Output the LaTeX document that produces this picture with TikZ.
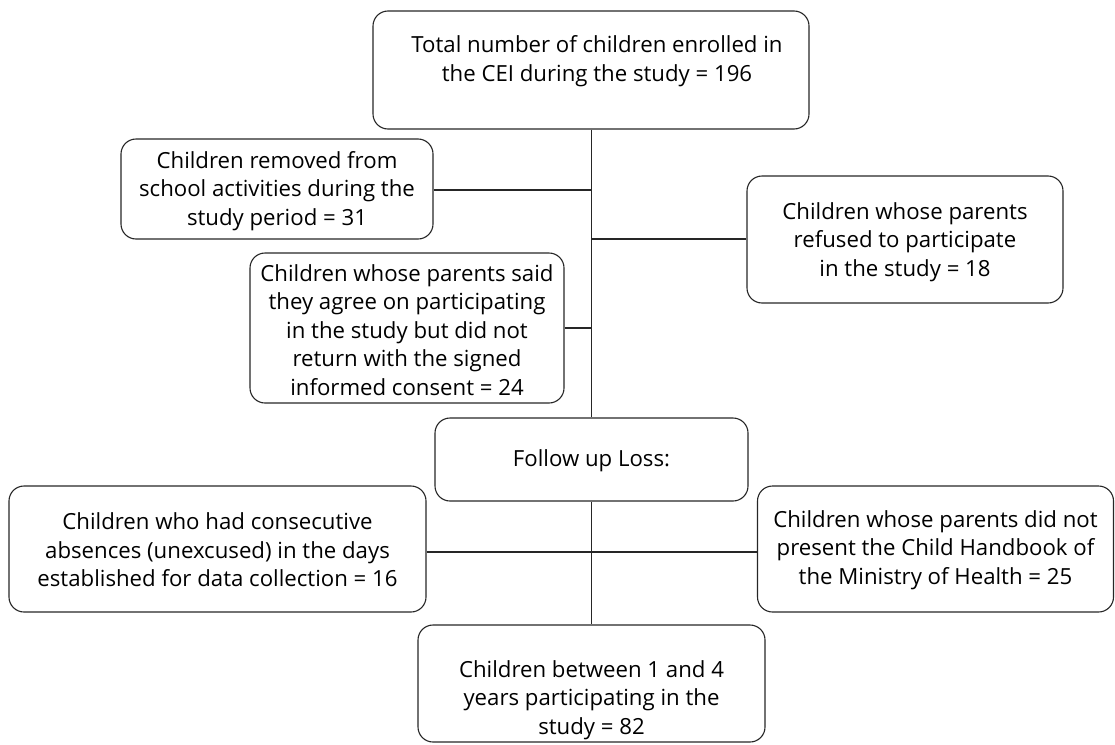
\documentclass[tikz,border=0pt]{standalone}
\usepackage{fontspec}
\setmainfont{Open Sans}
\begin{document}
\begin{tikzpicture}[x=1pt,y=-1pt,
  box/.style={draw=black!85, line width=1.1pt, rounded corners=15pt, inner sep=0pt},
  txt/.style={align=center, inner sep=0pt, font=\fontsize{22.2}{28.5}\selectfont, text=black},
  link/.style={draw=black!85, line width=1.1pt}]
\useasboundingbox (0,0) rectangle (1115,744);
\node[box, minimum width=436pt, minimum height=118pt] (top) at (591,70) {};
\node[txt] (toptxt) at (597,61) {Total number of children enrolled in\\the CEI during the study = 196};
\node[box, minimum width=312pt, minimum height=100pt] (removed) at (277,189) {};
\node[txt] (removedtxt) at (277,191) {Children removed from\\school activities during the\\study period = 31};
\node[box, minimum width=314pt, minimum height=150pt] (agree) at (407,328) {};
\node[txt] (agreetxt) at (407,330) {Children whose parents said\\they agree on participating\\in the study but did not\\return with the signed\\informed consent = 24};
\node[box, minimum width=316pt, minimum height=127pt] (refused) at (905,239.5) {};
\node[txt] (refusedtxt) at (905,242) {Children whose parents\\refused to participate\\in the study = 18};
\node[box, minimum width=313pt, minimum height=83pt] (follow) at (591.5,459.5) {};
\node[txt] (followtxt) at (591.5,461) {Follow up Loss:};
\node[box, minimum width=417pt, minimum height=126pt] (absent) at (217.5,549) {};
\node[txt] (absenttxt) at (217.5,550) {Children who had consecutive\\absences (unexcused) in the days\\established for data collection = 16};
\node[box, minimum width=356pt, minimum height=126pt] (handbook) at (935.5,549) {};
\node[txt] (handbooktxt) at (935.5,550) {Children whose parents did not\\present the Child Handbook of\\the Ministry of Health = 25};
\node[box, minimum width=347pt, minimum height=117pt] (final) at (591.5,683.5) {};
\node[txt] (finaltxt) at (591.5,700) {Children between 1 and 4\\years participating in the\\study = 82};
\coordinate (t1) at (591.5,190);
\coordinate (t2) at (591.5,239);
\coordinate (t3) at (591.5,328);
\coordinate (t4) at (591.5,552);
\draw[link] (top.south -| t1) -- (follow.north -| t1);
\draw[link] (follow.south -| t1) -- (final.north -| t1);
\draw[link] (removed.east |- t1) -- (t1);
\draw[link] (t2) -- (refused.west |- t2);
\draw[link] (agree.east |- t3) -- (t3);
\draw[link] (absent.east |- t4) -- (handbook.west |- t4);
\end{tikzpicture}
\end{document}
